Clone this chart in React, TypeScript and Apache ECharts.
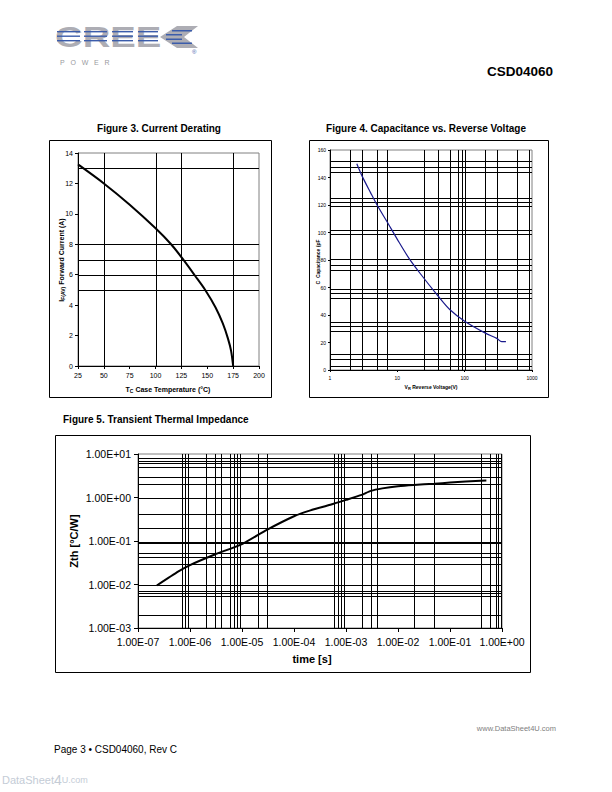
import React, { useEffect, useRef } from "react";
import * as echarts from "echarts";

// ---------- Figure 3: Current Derating ----------
const fig3Temp = [25, 50, 75, 100, 115, 125, 138, 148, 158, 165, 170, 173, 175];
const fig3Current = [13.25, 12.0, 10.6, 9.05, 8.0, 7.15, 5.95, 5.0, 3.85, 2.8, 1.8, 1.0, 0];
const fig3XLines = [50, 100, 125, 175];
const fig3YLines = [13, 8, 7, 6, 5];

// ---------- Figure 4: Capacitance vs Reverse Voltage ----------
const fig4Voltage = [2.5, 3, 4, 5, 7, 10, 15, 22, 40, 60, 100, 200, 300, 355, 410];
const fig4Cap = [150, 141, 129, 120, 108, 95, 81, 70, 54, 44, 35.5, 27, 23, 20.6, 20.6];
const fig4XLines = [2, 3, 5, 7, 25, 40, 60, 80, 90, 100, 200, 300, 600, 900];
const fig4YLines = [152, 148, 144, 125, 122, 119, 102, 99, 80.5, 76.5, 73, 59, 56, 52.5, 35, 32, 28.5, 11.5, 8, 3];
const fig4XLabels = ["1", "10", "100", "1000"];

// ---------- Figure 5: Transient Thermal Impedance ----------
const fig5Time = [2.3e-7, 6e-7, 1e-6, 3e-6, 1e-5, 3e-5, 1e-4, 2e-4, 5e-4, 1e-3, 2e-3, 3e-3, 5e-3, 1e-2, 2e-2, 5e-2, 1e-1, 2e-1, 5e-1];
const fig5Zth = [0.0095, 0.02, 0.028, 0.049, 0.085, 0.18, 0.37, 0.5, 0.68, 0.88, 1.15, 1.42, 1.62, 1.82, 1.95, 2.08, 2.2, 2.32, 2.45];
const fig5XLines = [7e-7, 8e-7, 9e-7, 2e-6, 3e-6, 4e-6, 6e-6, 7e-6, 8e-6, 9e-6, 2e-5, 3e-5, 6e-4, 7e-4, 8e-4, 9e-4, 2e-3, 3e-3, 4e-3, 2e-2, 5e-2, 4e-1, 6e-1, 7.5e-1, 8.5e-1, 9.5e-1];
const fig5YLines = [8, 7, 6.2, 5, 3, 2, 1, 0.41, 0.2, 0.095, 0.088, 0.052, 0.044, 0.03, 0.01, 0.0072, 0.0063, 0.0054, 0.002];
const fig5XLabels = ["1.00E-07", "1.00E-06", "1.00E-05", "1.00E-04", "1.00E-03", "1.00E-02", "1.00E-01", "1.00E+00"];
const fig5YLabels = ["1.00E-03", "1.00E-02", "1.00E-01", "1.00E+00", "1.00E+01"];

const FONT = '"Liberation Sans", Arial, sans-serif';
const LOGO_GRAY = "#adadb4";
const LOGO_BLUE = "#3b5cab";

function zip(a: number[], b: number[]) {
  return a.map((v, i) => [v, b[i]]);
}

function gridLines(idx: number, xs: number[], ys: number[], xMin: number, yMin: number) {
  const data = [...xs.map((v) => [v, yMin, 0]), ...ys.map((v) => [xMin, v, 1])];
  return {
    type: "custom",
    xAxisIndex: idx,
    yAxisIndex: idx,
    z: 1,
    silent: true,
    clip: false,
    encode: { x: 0, y: 1 },
    data,
    renderItem: (params: any, api: any) => {
      const cs = params.coordSys;
      const p = api.coord([api.value(0), api.value(1)]);
      const kind = api.value(2);
      const shape =
        kind === 0
          ? { x1: Math.round(p[0]) + 0.5, y1: cs.y, x2: Math.round(p[0]) + 0.5, y2: cs.y + cs.height }
          : { x1: cs.x, y1: Math.round(p[1]) + 0.5, x2: cs.x + cs.width, y2: Math.round(p[1]) + 0.5 };
      return { type: "line", shape, style: { stroke: "#000", lineWidth: 1 } };
    },
  };
}

function expIndex(v: number, base: number) {
  return Math.round(Math.log10(v)) - base;
}

export default function App() {
  const ref = useRef<HTMLDivElement>(null);
  useEffect(() => {
    const chart = echarts.init(ref.current!, null, { renderer: "svg" });
    const axisLine = { show: true, lineStyle: { color: "#000", width: 1 } };

    // Logo stripes drawn over the gray letters
    const stripeYs = [31, 35.5, 40];
    const letterSpans = [
      [57, 80],
      [84, 107],
      [112, 133],
      [138, 158],
    ];
    const stripeRects: any[] = [];
    letterSpans.forEach(([a, b]) => {
      stripeYs.forEach((y) => {
        stripeRects.push({ type: "rect", z: 11, shape: { x: a, y, width: b - a, height: 1.4 }, style: { fill: LOGO_BLUE } });
      });
    });

    const option: any = {
      animation: false,
      backgroundColor: "#fff",
      textStyle: { fontFamily: FONT },
      grid: [
        { left: 78, top: 153, width: 181, height: 213, show: true, borderColor: "#808080", borderWidth: 1, backgroundColor: "transparent" },
        { left: 330, top: 150, width: 202, height: 220, show: true, borderColor: "#808080", borderWidth: 1, backgroundColor: "transparent" },
        { left: 138, top: 454, width: 364, height: 174, show: true, borderColor: "#808080", borderWidth: 1, backgroundColor: "transparent" },
      ],
      xAxis: [
        {
          gridIndex: 0, type: "value", min: 25, max: 200, interval: 25,
          axisLine, axisTick: { show: true, length: 3, lineStyle: { color: "#000" } },
          axisLabel: { fontSize: 7, color: "#000", margin: 6, fontFamily: FONT },
          splitLine: { show: false },
        },
        {
          gridIndex: 1, type: "log", logBase: 10, min: 1, max: 1000, splitNumber: 3,
          axisLine, axisTick: { show: true, length: 2, lineStyle: { color: "#000" } },
          axisLabel: { fontSize: 5, color: "#000", margin: 5, fontFamily: FONT, formatter: (v: number) => fig4XLabels[expIndex(v, 0)] ?? "" },
          splitLine: { show: false }, minorTick: { show: false },
        },
        {
          gridIndex: 2, type: "log", logBase: 10, min: 1e-7, max: 1, splitNumber: 7,
          axisLine, axisTick: { show: true, length: 4, lineStyle: { color: "#000" } },
          axisLabel: { fontSize: 10.5, color: "#000", margin: 8, fontFamily: FONT, formatter: (v: number) => fig5XLabels[expIndex(v, -7)] ?? "" },
          splitLine: { show: false },
        },
      ],
      yAxis: [
        {
          gridIndex: 0, type: "value", min: 0, max: 14, interval: 2,
          axisLine, axisTick: { show: true, length: 3, lineStyle: { color: "#000" } },
          axisLabel: { fontSize: 7, color: "#000", margin: 5, fontFamily: FONT },
          splitLine: { show: false },
        },
        {
          gridIndex: 1, type: "value", min: 0, max: 160, interval: 20,
          axisLine, axisTick: { show: true, length: 2, lineStyle: { color: "#000" } },
          axisLabel: { fontSize: 5, color: "#000", margin: 4, fontFamily: FONT },
          splitLine: { show: false },
        },
        {
          gridIndex: 2, type: "log", logBase: 10, min: 1e-3, max: 10, splitNumber: 4,
          axisLine, axisTick: { show: true, length: 4, lineStyle: { color: "#000" } },
          axisLabel: { fontSize: 10.5, color: "#000", margin: 7, fontFamily: FONT, formatter: (v: number) => fig5YLabels[expIndex(v, -3)] ?? "" },
          splitLine: { show: false },
        },
      ],
      series: [
        gridLines(0, fig3XLines, fig3YLines, 25, 0),
        gridLines(1, fig4XLines, fig4YLines, 1, 0),
        gridLines(2, fig5XLines, fig5YLines, 1e-7, 1e-3),
        {
          type: "line", xAxisIndex: 0, yAxisIndex: 0, z: 5, showSymbol: false, smooth: 0.3,
          data: zip(fig3Temp, fig3Current), lineStyle: { color: "#000", width: 2 },
        },
        {
          type: "line", xAxisIndex: 1, yAxisIndex: 1, z: 5, showSymbol: false, smooth: 0.3,
          data: zip(fig4Voltage, fig4Cap), lineStyle: { color: "#1a1a8c", width: 1.2 },
        },
        {
          type: "line", xAxisIndex: 2, yAxisIndex: 2, z: 5, showSymbol: false, smooth: 0.2,
          data: zip(fig5Time, fig5Zth), lineStyle: { color: "#000", width: 2 },
        },
      ],
      graphic: [
        // Logo
        {
          type: "text", x: 55, y: 22, scaleX: 1.32, z: 10,
          style: { text: "CREE", font: `bold 29px ${FONT}`, textVerticalAlign: "top", fill: LOGO_GRAY },
        },
        ...stripeRects,
        {
          type: "polygon", z: 10,
          shape: { points: [[160, 37], [177, 26], [198, 26], [184, 37], [198, 48], [177, 48]] },
          style: { fill: LOGO_GRAY },
        },
        { type: "rect", z: 11, shape: { x: 172, y: 30, width: 20, height: 1.5 }, style: { fill: LOGO_BLUE } },
        { type: "rect", z: 11, shape: { x: 166, y: 34, width: 16, height: 1.5 }, style: { fill: LOGO_BLUE } },
        { type: "rect", z: 11, shape: { x: 166, y: 38.5, width: 16, height: 1.5 }, style: { fill: LOGO_BLUE } },
        { type: "rect", z: 11, shape: { x: 172, y: 42.5, width: 20, height: 1.5 }, style: { fill: LOGO_BLUE } },
        { type: "text", x: 192, y: 49, z: 10, style: { text: "®", font: `6px ${FONT}`, fill: LOGO_BLUE } },
        { type: "text", x: 60, y: 59, z: 10, style: { text: "P   O   W   E   R", font: `7px ${FONT}`, fill: "#9a9aa0" } },
        { type: "text", x: 553, y: 71, z: 10, style: { text: "CSD04060", font: `bold 13.5px ${FONT}`, fill: "#000", textAlign: "right", textVerticalAlign: "middle" } },

        // Boxes
        { type: "rect", shape: { x: 49.5, y: 140.5, width: 222, height: 257 }, style: { fill: "none", stroke: "#000", lineWidth: 1 } },
        { type: "rect", shape: { x: 309.5, y: 140.5, width: 239, height: 257 }, style: { fill: "none", stroke: "#000", lineWidth: 1 } },
        { type: "rect", shape: { x: 55.5, y: 435.5, width: 475, height: 237 }, style: { fill: "none", stroke: "#000", lineWidth: 1 } },

        // Figure titles
        { type: "text", x: 159, y: 128, style: { text: "Figure 3. Current Derating", font: `bold 10px ${FONT}`, fill: "#000", textAlign: "center", textVerticalAlign: "middle" } },
        { type: "text", x: 426, y: 128, style: { text: "Figure 4. Capacitance vs. Reverse Voltage", font: `bold 10px ${FONT}`, fill: "#000", textAlign: "center", textVerticalAlign: "middle" } },
        { type: "text", x: 63, y: 419, style: { text: "Figure 5. Transient Thermal Impedance", font: `bold 10px ${FONT}`, fill: "#000", textAlign: "left", textVerticalAlign: "middle" } },

        // Axis titles Fig 3
        {
          type: "text", x: 61, y: 260, rotation: Math.PI / 2,
          style: {
            text: "{n|I}{s|F(AV)}{n| Forward Current (A)}", textAlign: "center", textVerticalAlign: "middle",
            rich: { n: { fontSize: 7, fontWeight: "bold", fontFamily: FONT, fill: "#000" }, s: { fontSize: 5, fontWeight: "bold", fontFamily: FONT, fill: "#000", padding: [3, 0, 0, 0] } },
          },
        },
        {
          type: "text", x: 168, y: 389,
          style: {
            text: "{n|T}{s|C}{n| Case Temperature (°C)}", textAlign: "center", textVerticalAlign: "middle",
            rich: { n: { fontSize: 7, fontWeight: "bold", fontFamily: FONT, fill: "#000" }, s: { fontSize: 5, fontWeight: "bold", fontFamily: FONT, fill: "#000", padding: [3, 0, 0, 0] } },
          },
        },
        // Axis titles Fig 4
        {
          type: "text", x: 318, y: 262, rotation: Math.PI / 2,
          style: { text: "C  Capacitance (pF", font: `bold 5px ${FONT}`, fill: "#000", textAlign: "center", textVerticalAlign: "middle" },
        },
        {
          type: "text", x: 431, y: 387,
          style: {
            text: "{n|V}{s|R}{n| Reverse Voltage(V)}", textAlign: "center", textVerticalAlign: "middle",
            rich: { n: { fontSize: 5, fontWeight: "bold", fontFamily: FONT, fill: "#000" }, s: { fontSize: 4, fontWeight: "bold", fontFamily: FONT, fill: "#000", padding: [2, 0, 0, 0] } },
          },
        },
        // Axis titles Fig 5
        { type: "text", x: 74, y: 541, rotation: Math.PI / 2, style: { text: "Zth [°C/W]", font: `bold 11px ${FONT}`, fill: "#000", textAlign: "center", textVerticalAlign: "middle" } },
        { type: "text", x: 312, y: 659, style: { text: "time [s]", font: `bold 11px ${FONT}`, fill: "#000", textAlign: "center", textVerticalAlign: "middle" } },

        // Footer
        { type: "text", x: 556, y: 728, style: { text: "www.DataSheet4U.com", font: `7.5px ${FONT}`, fill: "#808080", textAlign: "right", textVerticalAlign: "middle" } },
        { type: "text", x: 54, y: 749, style: { text: "Page 3 • CSD04060, Rev C", font: `10px ${FONT}`, fill: "#000", textAlign: "left", textVerticalAlign: "middle" } },
        {
          type: "text", x: 2, y: 780,
          style: {
            text: "{a|DataSheet}{b|4}{c|U.com}", textVerticalAlign: "middle",
            rich: { a: { fontSize: 11, fontFamily: FONT, fill: "#c4ccd6" }, b: { fontSize: 14, fontFamily: FONT, fill: "#c4ccd6" }, c: { fontSize: 9, fontFamily: FONT, fill: "#c4ccd6" } },
          },
        },
      ],
    };
    chart.setOption(option);
    return () => chart.dispose();
  }, []);
  return <div ref={ref} style={{ position: "fixed", left: 0, top: 0, width: 612, height: 792, background: "#fff" }} />;
}
